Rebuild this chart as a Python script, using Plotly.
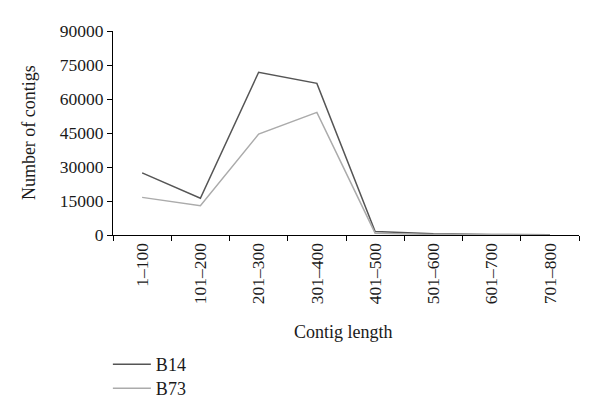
import plotly.graph_objects as go

categories = ["1–100", "101–200", "201–300", "301–400", "401–500", "501–600", "601–700", "701–800"]
b14 = [27400, 16200, 71800, 66900, 1500, 500, 200, 100]
b73 = [16600, 12900, 44500, 54100, 800, 250, 100, 50]
y_ticks = [0, 15000, 30000, 45000, 60000, 75000, 90000]

font_family = "Liberation Serif"

fig = go.Figure()
fig.add_trace(go.Scatter(x=categories, y=b14, mode="lines", name="B14",
                         line=dict(color="#555555", width=1.5), legend="legend"))
fig.add_trace(go.Scatter(x=categories, y=b73, mode="lines", name="B73",
                         line=dict(color="#ababab", width=1.5), legend="legend2"))

legend_common = dict(xanchor="left", yanchor="top", font=dict(size=18),
                     itemwidth=38, bgcolor="rgba(0,0,0,0)")

fig.update_layout(
    width=600, height=418,
    margin=dict(l=105, r=29, t=23, b=191, autoexpand=False),
    paper_bgcolor="white", plot_bgcolor="white",
    font=dict(family=font_family, size=17.5, color="#1a1a1a"),
    showlegend=True,
    legend=dict(x=-0.011, y=-0.544, **legend_common),
    legend2=dict(x=-0.011, y=-0.662, **legend_common),
    xaxis=dict(type="category", showline=True, linecolor="black", linewidth=1,
               ticks="outside", ticklen=5, tickcolor="black", tickson="boundaries",
               tickangle=-90, showgrid=False, zeroline=False, automargin=False,
               range=[-0.5, 7.5], tickfont=dict(size=17.5)),
    yaxis=dict(range=[0, 90000], tickvals=y_ticks, ticktext=[str(v) for v in y_ticks],
               showline=True, linecolor="black", linewidth=1, automargin=False,
               ticks="outside", ticklen=5, tickcolor="black",
               showgrid=False, zeroline=False, tickfont=dict(size=17.5)),
    annotations=[
        dict(text="Contig length", x=0.495, y=-0.475, xref="paper", yref="paper",
             xanchor="center", yanchor="middle", showarrow=False, font=dict(size=18)),
        dict(text="Number of contigs", x=-0.180, y=0.5, xref="paper", yref="paper",
             xanchor="center", yanchor="middle", textangle=-90, showarrow=False,
             font=dict(size=18)),
    ],
)

fig.write_html("out.html")
